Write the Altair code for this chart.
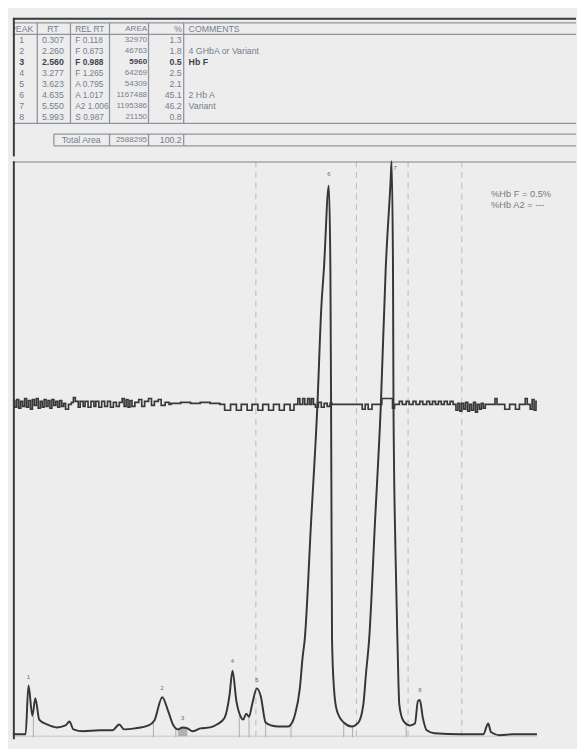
import altair as alt
import pandas as pd

# ---------------- table data ----------------
peaks = [1, 2, 3, 4, 5, 6, 7, 8]
rt = ["0.307", "2.260", "2.560", "3.277", "3.623", "4.635", "5.550", "5.993"]
rel_rt = ["F 0.118", "F 0.873", "F 0.988", "F 1.265", "A 0.795", "A 1.017", "A2 1.006", "S 0.987"]
area = ["32970", "46763", "5960", "64269", "54309", "1167488", "1195386", "21150"]
pct = ["1.3", "1.8", "0.5", "2.5", "2.1", "45.1", "46.2", "0.8"]
comments = ["", "4 GHbA or Variant", "Hb F", "", "", "2 Hb A", "Variant", ""]
total_label = "Total Area"
total_area = "2588295"
total_pct = "100.2"

# ---------------- chromatogram (time in min, signal in mV) ----------------
trace_t = [0.079, 0.264, 0.306, 0.363, 0.406, 0.462, 0.576, 0.718, 0.845, 0.902, 0.959,
           1.101, 1.342, 1.526, 1.626, 1.696, 1.852, 2.051, 2.136, 2.250, 2.335, 2.406,
           2.477, 2.547, 2.618, 2.689, 2.803, 2.945, 3.044, 3.157, 3.228, 3.271, 3.328,
           3.384, 3.427, 3.470, 3.512, 3.555, 3.626, 3.682, 3.753, 3.838, 3.938, 4.079,
           4.108, 4.179, 4.250, 4.292, 4.321, 4.413, 4.505, 4.562, 4.600, 4.671, 4.694,
           4.704, 4.712, 4.718, 4.746, 4.789, 4.888, 5.001, 5.101, 5.172, 5.214, 5.257,
           5.342, 5.427, 5.498, 5.569, 5.583, 5.604, 5.611, 5.640, 5.668, 5.696, 5.753,
           5.852, 5.923, 5.966, 5.994, 6.037, 6.094, 6.207, 6.590, 6.916, 6.987, 7.030,
           7.157, 7.342, 7.696]
trace_s = [0, 0, 50, 19, 37, 15, 10, 7, 9, 13, 5,
           3, 4, 4, 10, 5, 6, 9, 14, 38, 24, 10,
           5, 7, 6, 3, 6, 7, 10, 17, 40, 65, 34,
           19, 15, 21, 18, 30, 47, 39, 12, 9, 8, 8,
           9, 20, 47, 80, 97, 217, 337, 437, 477, 562, 477,
           337, 187, 97, 47, 24, 12, 8, 12, 30, 64, 97,
           217, 337, 477, 567, 587, 477, 337, 187, 97, 30, 14,
           9, 11, 34, 35, 17, 4, 1, 0, 0, 11, 2,
           -1, 0, 0]

# noisy secondary trace (step signal)
noise_t = [0.079, 0.108, 0.136, 0.165, 0.193, 0.221, 0.250, 0.278, 0.306, 0.335, 0.363, 0.391,
           0.420, 0.448, 0.477, 0.505, 0.533, 0.562, 0.590, 0.618, 0.647, 0.675, 0.704, 0.732,
           0.760, 0.789, 0.817, 0.845, 0.888, 0.930, 0.959, 0.987, 1.030, 1.058, 1.101, 1.129,
           1.172, 1.214, 1.257, 1.285, 1.328, 1.370, 1.413, 1.455, 1.498, 1.540, 1.583, 1.626,
           1.668, 1.696, 1.725, 1.753, 1.781, 1.810, 1.852, 1.909, 1.952, 1.994, 2.051, 2.094,
           2.136, 2.193, 2.235, 2.292, 2.349, 2.377, 2.519, 2.661, 2.803, 2.945, 3.087, 3.157,
           3.243, 3.328, 3.399, 3.484, 3.555, 3.640, 3.711, 3.796, 3.867, 3.952, 4.023, 4.108,
           4.165, 4.221, 4.250, 4.292, 4.321, 4.363, 4.392, 4.420, 4.448, 4.477, 4.519, 4.562,
           4.604, 4.647, 4.689, 4.718, 5.157, 5.200, 5.243, 5.299, 5.441, 5.597, 5.626, 5.696,
           5.739, 5.796, 5.838, 5.895, 5.938, 5.994, 6.037, 6.094, 6.136, 6.179, 6.221, 6.264,
           6.306, 6.349, 6.392, 6.434, 6.477, 6.519, 6.548, 6.576, 6.604, 6.633, 6.661, 6.690,
           6.718, 6.746, 6.775, 6.803, 6.831, 6.860, 6.888, 6.916, 6.945, 7.087, 7.115, 7.228,
           7.299, 7.384, 7.441, 7.526, 7.555, 7.597, 7.626, 7.654, 7.682, 7.696]
noise_s = [342, 335, 343, 334, 341, 336, 344, 335, 342, 333, 343, 337,
           344, 334, 341, 335, 343, 336, 342, 334, 343, 337, 341, 335,
           342, 336, 339, 333, 338, 340, 345, 341, 335, 341, 336, 341,
           335, 341, 336, 341, 335, 341, 336, 341, 335, 340, 336, 340,
           344, 336, 343, 335, 342, 336, 340, 343, 336, 341, 344, 337,
           341, 343, 337, 340, 338, 339, 340, 339, 340, 339, 338, 332,
           338, 332, 338, 332, 338, 332, 338, 332, 338, 332, 338, 332,
           338, 344, 338, 344, 338, 344, 338, 344, 338, 335, 340, 335,
           339, 336, 339, 338, 333, 338, 333, 338, 344, 334, 338, 341,
           338, 341, 338, 341, 338, 341, 338, 341, 338, 341, 338, 341,
           338, 341, 338, 341, 338, 332, 339, 331, 339, 333, 340, 331,
           338, 332, 340, 330, 338, 333, 339, 334, 338, 344, 338, 333,
           338, 333, 338, 344, 338, 333, 343, 332, 341, 341]

# peak labels (anchor position)
label_txt = ["1", "2", "3", "4", "5", "6", "8"]
label_t = [0.306, 2.250, 2.547, 3.271, 3.626, 4.671, 5.994]
label_s = [59, 47, 17, 75, 56, 574, 45]
label7_t = [5.611]
label7_s = [580]

# integration event marks
event_t = [0.377, 2.122, 2.448, 3.370, 3.512, 3.753, 4.122, 4.888, 5.016, 5.796]
event_s = [19, 13, 6, 20, 18, 12, 10, 12, 8, 9]

# shaded peak 3 area
p3_t = [2.480, 2.510, 2.547, 2.585, 2.615]
p3_s = [5, 6, 7, 6, 6]

# dashed reference lines
dash_t = [3.611, 5.072, 5.823, 6.604]

annot = ["%Hb F = 0.5%", "%Hb A2 = ---"]

# ---------------- styling ----------------
FONT = "Liberation Sans"
TXT = "#767d8c"
BOLD_TXT = "#3e4453"
GRID = "#8f949e"
BG = "#ededed"
FS = 9
W = 577
H_TAB = 142
H_PLOT = 592

# ---------------- table panel ----------------
tbl = pd.DataFrame({
    "row": [0] + peaks + [10],
    "peak": ["PEAK"] + [str(p) for p in peaks] + [""],
    "rt": ["RT"] + rt + [""],
    "rel": ["REL RT"] + rel_rt + [""],
    "area": ["AREA"] + area + [total_area],
    "pct": ["%"] + pct + [total_pct],
    "com": ["COMMENTS"] + comments + [""],
})
ys_tab = alt.Scale(domain=[-1.035, 11.53], reverse=True, nice=False, zero=False)
xs_tab = alt.Scale(domain=[0, W], nice=False, zero=False)


def col(field, xpos, align, bold, size, clip=False):
    flt = "datum.row == 3" if bold else "datum.row != 3"
    return alt.Chart(tbl).transform_filter(flt).mark_text(
        align=align, baseline="middle", font=FONT, fontSize=size, clip=clip,
        fontWeight="bold" if bold else "normal",
        color=BOLD_TXT if bold else TXT,
    ).encode(
        x=alt.value(xpos),
        y=alt.Y("row:Q", scale=ys_tab, axis=None),
        text=alt.Text(f"{field}:N"),
    )


specs = [("peak", 9, "center", FS, True), ("rt", 41, "center", FS, False),
         ("rel", 64, "left", 8.5, False), ("area", 137.5, "right", 8.2, False),
         ("pct", 173, "right", FS, False), ("com", 180, "left", FS, False)]
text_layers = []
for f, xp, al, sz, cl in specs:
    text_layers.append(col(f, xp, al, False, sz, cl))
    text_layers.append(col(f, xp, al, True, sz, cl))

total_txt = alt.Chart(pd.DataFrame({"row": [10], "lab": [total_label]})).mark_text(
    align="center", baseline="middle", font=FONT, fontSize=FS, color=TXT
).encode(x=alt.value(70), y=alt.Y("row:Q", scale=ys_tab, axis=None), text="lab:N")

hl = pd.DataFrame({"y": [-0.59, 0.47, 8.53, 9.5, 10.56],
                   "x": [0, 0, 0, 42, 42], "x2": [W, W, W, W, W]})
vl = pd.DataFrame({"x": [25, 59, 99, 139, 175, 42, 99, 139, 175],
                   "y": [-0.59] * 5 + [9.5] * 4,
                   "y2": [8.53] * 5 + [10.56] * 4})
hrules = alt.Chart(hl).mark_rule(color=GRID, strokeWidth=1.3).encode(
    x=alt.X("x:Q", scale=xs_tab, axis=None), x2="x2:Q",
    y=alt.Y("y:Q", scale=ys_tab, axis=None))
vrules = alt.Chart(vl).mark_rule(color=GRID, strokeWidth=1.3).encode(
    x=alt.X("x:Q", scale=xs_tab, axis=None),
    y=alt.Y("y:Q", scale=ys_tab, axis=None), y2="y2:Q")
top_border = alt.Chart(pd.DataFrame({"a": [0]})).mark_rule(color="#3a3a3a", strokeWidth=2).encode(
    y=alt.value(1))
left_border_t = alt.Chart(pd.DataFrame({"a": [0]})).mark_rule(color="#3a3a3a", strokeWidth=2).encode(
    x=alt.value(1))

table_chart = alt.layer(hrules, vrules, *text_layers, total_txt, top_border, left_border_t).properties(
    width=W, height=H_TAB)

# ---------------- chromatogram panel ----------------
xs = alt.Scale(domain=[0.0794, 8.264], nice=False, zero=False)
ys = alt.Scale(domain=[-5, 587], nice=False, zero=False)


def X(f):
    return alt.X(f, scale=xs, axis=None)


def Y(f):
    return alt.Y(f, scale=ys, axis=None)


dash = alt.Chart(pd.DataFrame({"t": dash_t})).mark_rule(
    color="#b9b9b9", strokeWidth=1, strokeDash=[6, 5]).encode(x=X("t:Q"))

frame_top = alt.Chart(pd.DataFrame({"a": [0]})).mark_rule(color="#a3a6ac", strokeWidth=1.5).encode(
    y=alt.value(0.75))

base_line = alt.Chart(pd.DataFrame({"t": [trace_t[0]], "t2": [trace_t[-1]], "s": [-2]})).mark_rule(
    color="#c4c4c4", strokeWidth=1).encode(x=X("t:Q"), x2="t2:Q", y=Y("s:Q"))

events = alt.Chart(pd.DataFrame({"t": event_t, "s": event_s, "b": [-3] * len(event_t)})).mark_rule(
    color="#9a9a9a", strokeWidth=0.8).encode(x=X("t:Q"), y=Y("b:Q"), y2="s:Q")

p3 = alt.Chart(pd.DataFrame({"t": p3_t, "s": p3_s, "b": [-2] * len(p3_t)})).mark_area(
    color="#a9a9a9", opacity=0.9).encode(x=X("t:Q"), y=Y("s:Q"), y2="b:Q")

noise = alt.Chart(pd.DataFrame({"t": noise_t, "s": noise_s})).mark_line(
    interpolate="step-after", color="#383838", strokeWidth=1.7).encode(x=X("t:Q"), y=Y("s:Q"))

trace = alt.Chart(pd.DataFrame({"t": trace_t, "s": trace_s})).mark_line(
    interpolate="monotone", color="#363636", strokeWidth=2).encode(x=X("t:Q"), y=Y("s:Q"))

labels = alt.Chart(pd.DataFrame({"t": label_t, "s": label_s, "lab": label_txt})).mark_text(
    font=FONT, fontSize=6, color="#6a6a6a", baseline="middle").encode(
    x=X("t:Q"), y=Y("s:Q"), text="lab:N")
label7 = alt.Chart(pd.DataFrame({"t": label7_t, "s": label7_s, "lab": ["7"]})).mark_text(
    font=FONT, fontSize=6, color="#6a6a6a", baseline="middle", align="left").encode(
    x=X("t:Q"), y=Y("s:Q"), text="lab:N")

ann1 = alt.Chart(pd.DataFrame({"a": [0]})).mark_text(
    text=annot[0], align="left", baseline="middle", font=FONT, fontSize=9.5, color="#7a7a7a").encode(
    x=alt.value(490), y=alt.value(34))
ann2 = alt.Chart(pd.DataFrame({"a": [0]})).mark_text(
    text=annot[1], align="left", baseline="middle", font=FONT, fontSize=9.5, color="#7a7a7a").encode(
    x=alt.value(490), y=alt.value(45))

left_border_b = alt.Chart(pd.DataFrame({"a": [0]})).mark_rule(color="#3a3a3a", strokeWidth=2).encode(
    x=alt.value(1))

plot_chart = alt.layer(dash, frame_top, base_line, events, p3, noise, trace, labels, label7,
                       ann1, ann2, left_border_b).properties(width=W, height=H_PLOT)

chart = alt.vconcat(table_chart, plot_chart, spacing=0).properties(
    padding=0, background=BG
).configure_view(stroke=None)

chart.save("out.html", embed_options={"renderer": "svg", "actions": False})
